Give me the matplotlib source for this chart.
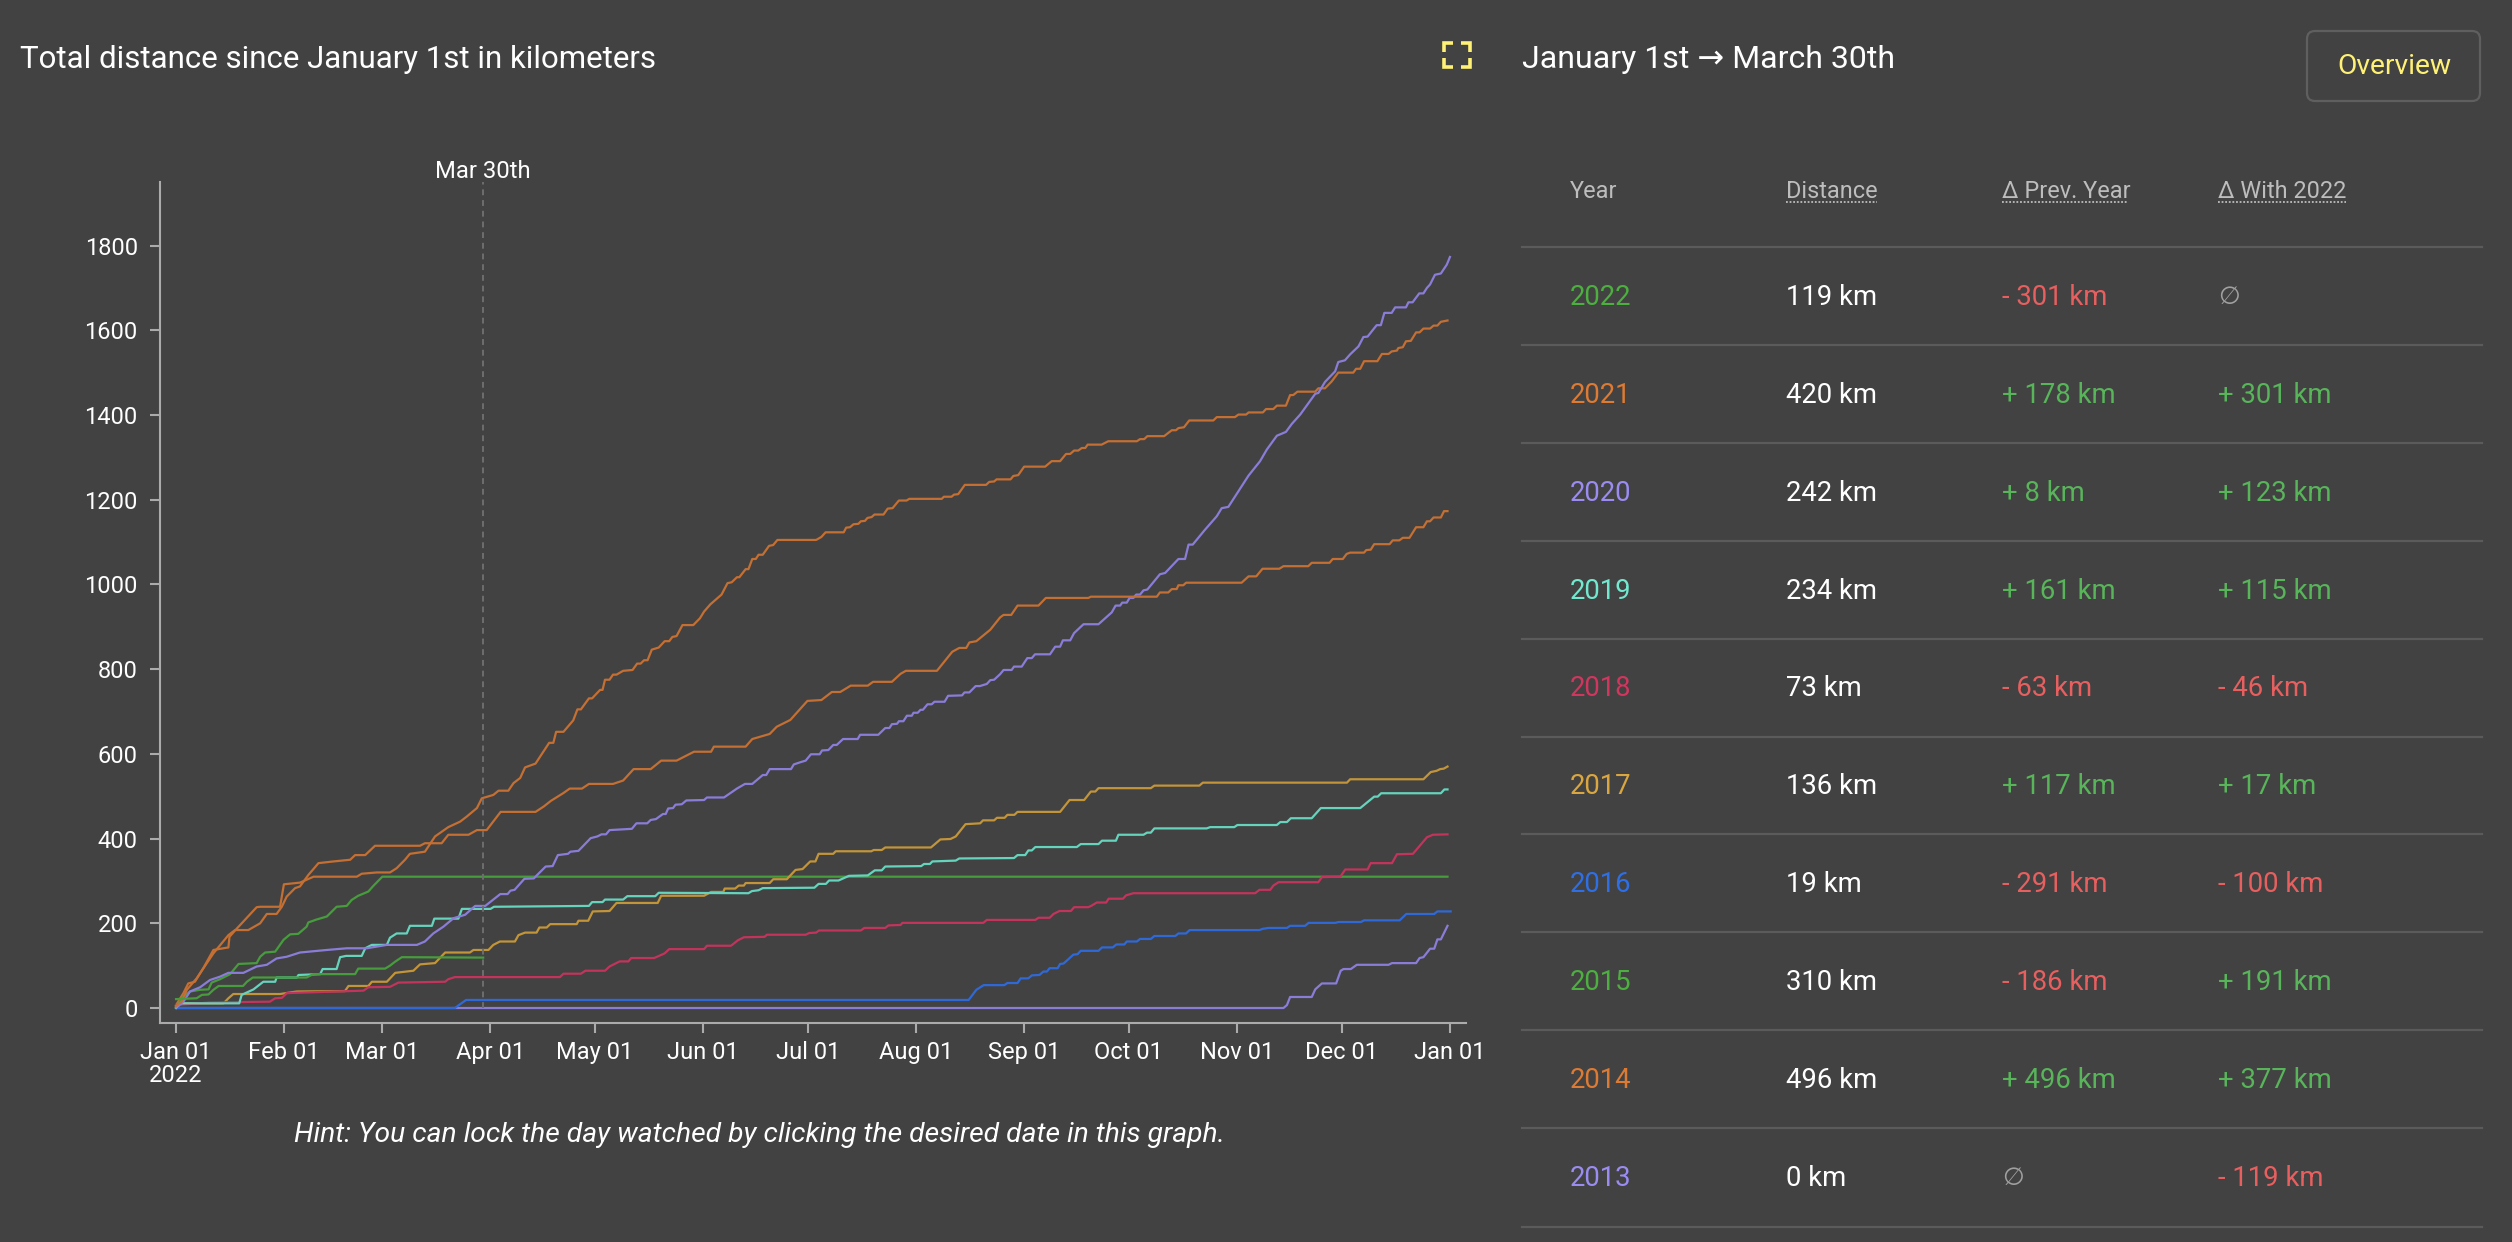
import datetime as dt

import matplotlib
matplotlib.use('Agg')
import matplotlib.pyplot as plt
from matplotlib.patches import FancyBboxPatch

plt.rcParams['font.family'] = ['Roboto', 'DejaVu Sans']

BG = '#424242'
START = dt.datetime(2022, 1, 1)

# day of year (0 = Jan 1) / cumulated km
days_2022 = [0, 5.9, 7.4, 9.3, 10.7, 12.2, 19.2, 20.3, 22, 37.4, 39.3, 51.3, 52.2, 59.9, 61.3, 62.7, 64.7, 88]
km_2022 = [21, 23, 31, 32, 43, 52, 52, 62, 72, 72, 80, 80, 93, 93, 100, 109, 120, 119]

days_2021 = [0, 1.6, 3.1, 5.9, 10.7, 15, 16.9, 20.7, 24.1, 26, 28.8, 30.3, 31.7, 34.1, 35.5, 37.9, 40.8, 45.1, 49.9,
             51.3, 54.2, 57, 69.9, 71.3, 76.1, 78, 83.8, 86.2, 89, 93, 103, 105.4, 107.4, 110.9, 112.8, 116.3, 118.3,
             125.2, 128.1, 131.1, 136, 139, 143.4, 148.4, 153.3, 154.1, 163.2, 165.1, 170.1, 172.1, 176, 180.9, 184.9,
             187.9, 190.3, 193.3, 198.2, 199.7, 205.1, 207.6, 209.1, 218, 222.4, 224.4, 226.4, 227.3, 229.3, 233.3,
             236.1, 237.1, 239.3, 241.1, 247.1, 249.2, 261.4, 262.1, 281, 281.9, 284.3, 285.3, 286.7, 287.2, 288.6,
             289.4, 305.3, 307.3, 309.5, 311.3, 316.1, 317.3, 324.4, 325.4, 330.5, 331.4, 334.3, 335.4, 336.4, 340.4,
             341, 342.3, 343.3, 347.7, 348.6, 350.5, 351.5, 353.4, 355.3, 357.4, 358.4, 359.3, 360.3, 362.4, 363.3,
             364.3]
km_2021 = [5, 15, 43, 70, 129, 172, 184, 184, 200, 222, 222, 239, 263, 283, 287, 314, 342, 346, 350,
           361, 361, 383, 383, 389, 389, 409, 409, 420, 420, 463, 463, 476, 489, 507, 518, 518, 529,
           529, 537, 564, 564, 584, 584, 605, 605, 617, 617, 635, 647, 664, 680, 725, 727,
           746, 746, 761, 761, 770, 770, 789, 796, 796, 841, 850, 850, 863, 866, 893,
           922, 928, 928, 950, 950, 968, 968, 971, 971, 981, 981, 989, 989, 998, 998,
           1004, 1004, 1019, 1019, 1037, 1037, 1043, 1043, 1051, 1051, 1060, 1060, 1072, 1075, 1075,
           1081, 1082, 1095, 1095, 1104, 1104, 1110, 1110, 1135, 1135, 1149, 1149, 1158, 1158, 1173,
           1173]

days_2020 = [0, 2.1, 4, 6.9, 9.7, 12.6, 15, 19.3, 23.1, 26, 28.8, 31.7, 35.5, 43.2, 48.9, 54.6, 60.4, 69, 71.3, 73.7,
             76.6, 79.5, 82.8, 85.7, 88.6, 92.9, 95, 95.8, 97, 99.8, 102.5, 105.9, 107.9, 109.4, 112.3, 113, 115.3,
             118.8, 120.7, 121.9, 123.2, 124.2, 130.6, 131.9, 135, 136, 137.5, 139.5, 140.3, 141, 142.4, 143.1, 144.9,
             146.2, 151.3, 152.1, 157, 160.7, 163, 165.1, 168.1, 169.1, 170.1, 176.2, 177, 178.8, 180.4, 181.9, 184.4,
             185.1, 186.9, 188.3, 189.3, 191.1, 195.3, 196, 201.2, 203.2, 204.4, 205.1, 206.6, 207.1, 208.4, 209.4,
             210.8, 211.3, 212.5, 213.3, 214, 215.3, 216.5, 217.3, 220.2, 221.2, 225.2, 225.9, 227.3, 229.1, 230.3,
             232.3, 233.3, 234.4, 236.1, 237.1, 239.4, 240.1, 242.3, 243.9, 245.2, 246.1, 250.4, 251.9, 253.3, 254.1,
             256.2, 257.3, 260, 264.3, 268.1, 269.2, 270.5, 271.1, 272.4, 273.2, 274.3, 275.1, 276.2, 277.2, 278.3,
             281.9, 283.4, 287.2, 289.1, 290.1, 291.3, 294.8, 298.2, 299.6, 301.5, 307.3, 310.6, 312.5, 315.4, 318,
             319.7, 322.1, 326.4, 327.3, 329.2, 332.1, 333, 334.9, 336.4, 338.8, 340.2, 341.4, 344, 345.2, 346.2,
             348.3, 349.3, 352.4, 353.1, 354.3, 356.2, 357.4, 358.4, 359.3, 360.7, 362.4, 364.1, 365]
km_2020 = [1, 15, 39, 49, 66, 74, 83, 83, 98, 102, 117, 121, 131, 137, 141, 141, 149, 149, 157, 176,
           192, 212, 220, 241, 241, 269, 269, 277, 279, 305, 306, 334, 335, 361, 364, 369, 371,
           401, 405, 410, 410, 420, 423, 436, 436, 444, 446, 458, 458, 471, 472, 480, 481,
           490, 491, 497, 497, 518, 529, 529, 550, 550, 564, 564, 575, 580, 584, 599, 599,
           608, 609, 621, 621, 635, 635, 645, 645, 661, 661, 670, 671, 677, 677, 690,
           690, 697, 697, 704, 704, 717, 717, 723, 723, 737, 738, 745, 745, 760, 760,
           765, 774, 775, 788, 798, 798, 806, 806, 826, 826, 835, 835, 853, 853, 868,
           868, 885, 906, 906, 934, 950, 950, 957, 957, 968, 968, 976, 976, 986, 988,
           1024, 1027, 1060, 1060, 1094, 1094, 1129, 1161, 1180, 1183, 1257, 1291, 1318, 1351, 1360,
           1379, 1401, 1450, 1452, 1478, 1503, 1525, 1529, 1543, 1562, 1584, 1585, 1612, 1612, 1641,
           1641, 1654, 1654, 1666, 1666, 1687, 1687, 1700, 1708, 1731, 1734, 1755, 1773]

days_2019 = [0, 1, 18.1, 18.8, 22.2, 25, 28.4, 28.8, 34.6, 35.1, 41.3, 42, 46, 47, 48.7, 53.2, 54.2, 56.1, 60.4, 61.3,
             63.2, 66.1, 67, 73.3, 74, 80.9, 81.9, 90.1, 91.1, 118.3, 119.2, 122.2, 122.9, 128.1, 129.3, 137.3, 138.3,
             164, 165, 166.9, 168.1, 182.9, 184.1, 186.2, 187.1, 189.8, 192.8, 198.2, 200.2, 202.2, 203.2, 213.5,
             214.3, 216, 216.7, 223.4, 224.4, 240.1, 241.1, 243.3, 244.2, 245.2, 246.2, 258.1, 259.2, 264.3, 265.3,
             269.3, 270, 277.2, 278.2, 279.3, 280.3, 295.3, 296.3, 303.2, 304.1, 315.4, 316.4, 318.3, 319.4, 325.4,
             328, 339.3, 343.3, 344.3, 345.3, 362.4, 363.4, 364.3]
km_2019 = [0, 11, 11, 31, 44, 62, 62, 72, 72, 78, 80, 92, 92, 120, 123, 123, 141, 149, 149, 166,
           176, 176, 194, 194, 211, 211, 234, 234, 239, 241, 250, 250, 256, 256, 264, 264, 272,
           271, 276, 278, 283, 284, 293, 293, 301, 301, 312, 313, 325, 325, 334, 335,
           340, 340, 346, 348, 353, 354, 361, 361, 372, 372, 380, 380, 387, 387, 395,
           395, 409, 409, 414, 414, 424, 424, 427, 427, 432, 432, 439, 439, 448, 448,
           472, 472, 499, 499, 507, 507, 516, 516]

days_2018 = [0, 9.7, 26.9, 28.4, 30.3, 31.7, 34.6, 53.7, 55.1, 61.3, 63.7, 77.1, 78, 79.9, 110, 111, 116, 117.3, 122.9,
             124.2, 127.1, 129.6, 130.4, 137, 140, 141.3, 151.3, 152.1, 159, 161, 162.7, 168.6, 169.3, 180.4, 181.4,
             183.4, 184.2, 196.2, 197.2, 203.2, 204.1, 207.6, 208.1, 231.3, 232.3, 246.2, 247.1, 250.3, 251.4, 253.1,
             256.4, 257.3, 261.4, 262.4, 263.8, 266.5, 267.2, 271.3, 272.2, 274.3, 309.2, 310.4, 313.5, 314.4, 315.9,
             327.3, 328.3, 333.6, 335, 341.4, 342.3, 348.4, 349.8, 354.4, 358.4, 360.1, 364.3]
km_2018 = [7, 13, 15, 23, 24, 35, 36, 41, 49, 50, 60, 62, 68, 73, 73, 81, 81, 88, 88,
           98, 110, 110, 118, 118, 129, 139, 139, 147, 147, 160, 167, 168, 173, 173, 177,
           178, 183, 183, 189, 189, 195, 196, 201, 201, 208, 208, 213, 213, 222, 229,
           229, 238, 238, 242, 249, 249, 258, 258, 266, 271, 271, 279, 279, 289, 297,
           297, 309, 310, 327, 327, 342, 342, 363, 364, 403, 409, 410]

days_2017 = [0, 2.1, 13.6, 15, 16.4, 29.8, 34.6, 48.4, 49.4, 55.1, 56.1, 60.4, 62.8, 68, 69.9, 74.2, 77.1, 84.2, 85.2,
             89.5, 90.9, 92.8, 97.1, 98.1, 100, 103.3, 104.1, 106.2, 107.2, 114.8, 115.3, 118.1, 119.4, 124.2, 126.2,
             138, 139, 151.3, 153.3, 156.8, 157.2, 160.2, 161.2, 162.7, 163.2, 170.1, 171.1, 175, 177.5, 179.5, 181.7,
             183.2, 184.1, 188.3, 189, 199.2, 199.9, 202.2, 203.2, 216.3, 219, 221.9, 223.4, 226.2, 230.4, 231.2,
             234.4, 235.2, 237.4, 238.2, 240.2, 241.1, 253.3, 256, 260.2, 262.1, 263.4, 264.3, 279.3, 280.3, 293.2,
             294.2, 335.5, 336.4, 357.4, 359.5, 361.2, 362.2, 363.2, 364.3]
km_2017 = [3, 11, 11, 23, 33, 33, 39, 40, 52, 52, 62, 62, 83, 88, 103, 106, 131, 131, 137,
           137, 149, 157, 157, 172, 178, 178, 190, 190, 198, 198, 206, 206, 228, 229, 248,
           248, 265, 265, 274, 274, 282, 282, 289, 289, 295, 295, 304, 304, 326, 328, 346,
           346, 364, 364, 370, 370, 373, 373, 379, 379, 398, 399, 405, 434, 436, 443,
           443, 449, 449, 456, 456, 463, 463, 491, 491, 511, 511, 519, 519, 525, 525,
           532, 532, 540, 540, 557, 560, 564, 565, 570]

days_2016 = [0, 79.9, 81.4, 83.1, 227.1, 229.3, 231.4, 237.3, 238.2, 241.1, 242, 244.2, 245.2, 247.4, 248.5, 249.5,
             250.3, 252.6, 253.3, 254.3, 257.1, 258.3, 259.2, 264.3, 265.3, 268.4, 269.4, 271.7, 272.4, 275.3, 276.2,
             279.3, 280.3, 286.3, 287.2, 289.4, 290.4, 310.4, 311.4, 313, 318.3, 319.2, 323.5, 324.5, 332.1, 333.1,
             339.5, 340.4, 350.6, 352.5, 360.5, 361.4, 365.2]
km_2016 = [0, 0, 9, 19, 19, 43, 54, 54, 59, 59, 70, 70, 77, 78, 86, 86,
           94, 94, 104, 105, 126, 127, 135, 135, 143, 143, 150, 150, 157, 157, 163,
           163, 170, 170, 176, 176, 184, 184, 187, 189, 189, 194, 194, 201, 201, 203,
           203, 207, 207, 222, 222, 228, 228]

days_2015 = [0, 2.1, 4, 6.9, 9.3, 10.2, 12.6, 15.5, 17.9, 23.1, 24.1, 25.5, 28.4, 30.8, 32.7, 35, 37.4, 37.9, 40.3,
             43.2, 46, 48.9, 50.3, 52.2, 55.1, 56.5, 59.1, 364.3]
km_2015 = [1, 27, 39, 43, 44, 60, 68, 80, 104, 106, 121, 131, 133, 161, 174, 175, 192, 202, 209,
           216, 239, 241, 255, 265, 275, 288, 310, 310]

days_2014 = [0, 2.1, 3.5, 5.4, 7.8, 10.7, 15, 15.3, 16.9, 23.1, 24.1, 29.8, 30.9, 35.5, 39.4, 51.8, 53.2, 57.5, 61.3,
             63.2, 65.6, 67, 71.3, 74.2, 78, 81.4, 83.3, 86.2, 87.6, 90.9, 92.4, 95.2, 96.7, 98.6, 100, 103, 106.9,
             108.1, 108.9, 111, 113.8, 115, 116, 118.3, 119.2, 121.5, 122.2, 122.9, 124.2, 125.2, 126.2, 128.1, 130.8,
             132.1, 133.1, 134.1, 135.1, 136.3, 138.3, 140, 141.3, 142.2, 143.4, 145.1, 148.2, 150.1, 151.3, 153.1,
             156.3, 158, 159.2, 160.7, 161.4, 163.2, 164, 165.1, 166.1, 166.9, 168.1, 169.9, 171.1, 172.3, 183.4,
             184.9, 186.1, 191.3, 192, 193.1, 194.1, 195.5, 196.2, 197.4, 198.1, 199.3, 200.1, 202.7, 203.9, 205.3,
             207.1, 209.3, 210.1, 219.4, 220, 222.2, 222.9, 224.1, 226, 232.1, 233, 234.4, 235.1, 239.1, 239.9, 241.3,
             243, 249, 250.9, 253.3, 255, 256.2, 257.3, 258.5, 259.5, 260.5, 261.2, 265.2, 267.1, 275.3, 276.2, 277.4,
             278.3, 283.1, 285.3, 286.5, 287.2, 288.8, 290.3, 297.2, 298.2, 303.4, 304.4, 306.6, 307.3, 311.4, 312.3,
             314.4, 315.4, 318, 319.2, 320.1, 321.3, 326.4, 327.3, 329.2, 331.1, 333, 337.3, 338.1, 339.3, 340.4,
             344.2, 345.5, 347.4, 348.3, 349.8, 350.2, 351.5, 352.4, 353.8, 355.3, 356.3, 357.4, 359.3, 360.3, 361.4,
             362.4, 364.3]
km_2014 = [7, 35, 58, 62, 94, 137, 143, 168, 183, 238, 239, 239, 292, 296, 310, 310, 317, 320, 320,
           330, 350, 364, 369, 405, 427, 440, 452, 472, 495, 503, 513, 513, 531, 543, 568, 577, 626,
           626, 652, 652, 679, 705, 705, 731, 731, 751, 751, 775, 775, 787, 787, 796, 798,
           813, 813, 821, 821, 846, 851, 866, 866, 876, 878, 904, 904, 920, 936, 953,
           976, 1003, 1005, 1017, 1017, 1036, 1036, 1060, 1060, 1070, 1070, 1091, 1093, 1105, 1105,
           1112, 1123, 1123, 1134, 1135, 1142, 1143, 1149, 1150, 1157, 1159, 1165, 1165, 1179, 1180,
           1198, 1198, 1202, 1202, 1207, 1207, 1212, 1213, 1235, 1235, 1242, 1243, 1248, 1248, 1256, 1258,
           1278, 1278, 1291, 1291, 1308, 1308, 1316, 1316, 1322, 1322, 1330, 1330, 1338, 1338, 1343, 1343,
           1350, 1350, 1364, 1364, 1369, 1371, 1387, 1387, 1395, 1395, 1401, 1401, 1406, 1406, 1414,
           1414, 1422, 1422, 1447, 1447, 1455, 1455, 1463, 1463, 1479, 1500, 1500, 1509, 1509, 1527,
           1527, 1544, 1544, 1550, 1552, 1558, 1560, 1574, 1575, 1595, 1595, 1604, 1604, 1611, 1611,
           1620, 1623]

days_2013 = [0, 317.3, 318.3, 319.2, 325.4, 326.4, 328.3, 332.4, 333.7, 334.5, 336.6, 338.3, 347.4, 348.4, 355.3, 356.3,
             357.4, 359.3, 360.5, 361.4, 362.4, 364.3]
km_2013 = [0, 0, 7, 26, 26, 44, 58, 58, 88, 92, 92, 102, 102, 106, 106, 118,
           120, 140, 140, 162, 162, 194]

years = [2022, 2021, 2020, 2019, 2018, 2017, 2016, 2015, 2014, 2013]
distance = ['119 km', '420 km', '242 km', '234 km', '73 km', '136 km', '19 km', '310 km', '496 km', '0 km']
delta_prev = ['- 301 km', '+ 178 km', '+ 8 km', '+ 161 km', '- 63 km', '+ 117 km', '- 291 km', '- 186 km', '+ 496 km', '∅']
delta_2022 = ['∅', '+ 301 km', '+ 123 km', '+ 115 km', '- 46 km', '+ 17 km', '- 100 km', '+ 191 km', '+ 377 km', '- 119 km']

series = {2022: (days_2022, km_2022), 2021: (days_2021, km_2021), 2020: (days_2020, km_2020),
          2019: (days_2019, km_2019), 2018: (days_2018, km_2018), 2017: (days_2017, km_2017),
          2016: (days_2016, km_2016), 2015: (days_2015, km_2015), 2014: (days_2014, km_2014),
          2013: (days_2013, km_2013)}

line_colors = {2022: '#479c3d', 2021: '#c46f33', 2020: '#8a7dd8', 2019: '#66d4bd', 2018: '#c2345c',
               2017: '#c2953a', 2016: '#2f69d8', 2015: '#479c3d', 2014: '#c46f33', 2013: '#8a7dd8'}
year_colors = {2022: '#4caf3f', 2021: '#dd7a33', 2020: '#9a8cf0', 2019: '#72e8cf', 2018: '#d1365f',
               2017: '#d9a63f', 2016: '#2f6fe6', 2015: '#4caf3f', 2014: '#dd7a33', 2013: '#9a8cf0'}

W, H = 2512, 1242
fig = plt.figure(figsize=(W / 100, H / 100), dpi=100, facecolor=BG)

# graphique principal
ax = fig.add_axes([160 / W, 1 - 1023 / H, (1466 - 160) / W, (1023 - 182) / H], facecolor=BG)
for year in reversed(years):
    d, km = series[year]
    x = [START + dt.timedelta(days=v) for v in d]
    ax.plot(x, km, color=line_colors[year], lw=1.6, solid_joinstyle='round')

ax.set_xlim(START - dt.timedelta(days=4.6), START + dt.timedelta(days=369.6))
ax.set_ylim(-35.4, 1950)
ax.spines['top'].set_visible(False)
ax.spines['right'].set_visible(False)
for s in ('left', 'bottom'):
    ax.spines[s].set_color('#ababab')
    ax.spines[s].set_linewidth(1.5)

months = [dt.datetime(2022, m, 1) for m in range(1, 13)] + [dt.datetime(2023, 1, 1)]
ax.set_xticks(months)
ax.set_xticklabels(['Jan 01\n2022'] + [m.strftime('%b %d') for m in months[1:]])
ax.set_yticks(range(0, 1801, 200))
ax.tick_params(colors='#ababab', labelcolor='white', labelsize=17, length=7, width=1.5)
ax.tick_params(axis='x', pad=6)
ax.tick_params(axis='y', pad=9)
for lab in ax.get_xticklabels():
    lab.set_linespacing(1.0)

watched = START + dt.timedelta(days=88)
ax.plot([watched, watched], [0, 1950], color='#6e6e6e', lw=1.4, ls=(0, (3, 2.5)))

# tout le reste est placé en pixels
ov = fig.add_axes([0, 0, 1, 1], facecolor='none')
ov.set_xlim(0, W)
ov.set_ylim(H, 0)
ov.axis('off')


def label(x, y, s, size=19.8, color='white', ha='left', **kw):
    ov.text(x, y, s, fontsize=size, color=color, ha=ha, va='center', **kw)


label(20, 60, 'Total distance since January 1st in kilometers', size=22.5)
label(483, 172, 'Mar 30th', size=17.2, ha='center')
label(759, 1135, 'Hint: You can lock the day watched by clicking the desired date in this graph.',
      size=20.3, ha='center', style='italic')
label(1522, 60, 'January 1st → March 30th', size=23)

# bouton et icone plein écran
ov.add_patch(FancyBboxPatch((2310, 34), 167, 64, boxstyle='round,pad=3,rounding_size=8',
                            fc='none', ec='#5f5f5f', lw=1.6))
label(2394, 66, 'Overview', size=20.3, color='#fff176', ha='center')
for cx, cy, sx, sy in [(1444, 43, 1, 1), (1470, 43, -1, 1), (1444, 67, 1, -1), (1470, 67, -1, -1)]:
    ov.plot([cx + 9 * sx, cx, cx], [cy, cy, cy + 9 * sy], color='#fff176', lw=2.6,
            solid_joinstyle='miter', solid_capstyle='butt')

# tableau
col_x = [1570, 1786, 2002, 2218]
headers = ['Year', 'Distance', 'Δ Prev. Year', 'Δ With 2022']
underline_w = [None, 91, 126, 128]
for x, s, w in zip(col_x, headers, underline_w):
    label(x, 191, s, size=16.9, color='#bdbdbd')
    if w:
        ov.plot([x, x + w], [202, 202], color='#bdbdbd', lw=1.3, ls=(0, (1, 1)))


def cell(x, y, s):
    # Roboto n'a pas le signe vide
    if s == '∅':
        label(x, y, s, size=18, color='#a0a0a0', family='DejaVu Sans')
    else:
        label(x, y, s, color='#58b55a' if s.startswith('+') else '#e85f5f')


for i, year in enumerate(years):
    y = 297.5 + 97.85 * i
    label(col_x[0], y, str(year), color=year_colors[year])
    label(col_x[1], y, distance[i])
    cell(col_x[2], y, delta_prev[i])
    cell(col_x[3], y, delta_2022[i])
    ov.plot([1522, 2482], [247 + 97.9 * i] * 2, color='#5b5b5b', lw=1.6)
ov.plot([1522, 2482], [1227, 1227], color='#5b5b5b', lw=1.6)

fig.savefig('out.png', dpi=100, facecolor=BG)
